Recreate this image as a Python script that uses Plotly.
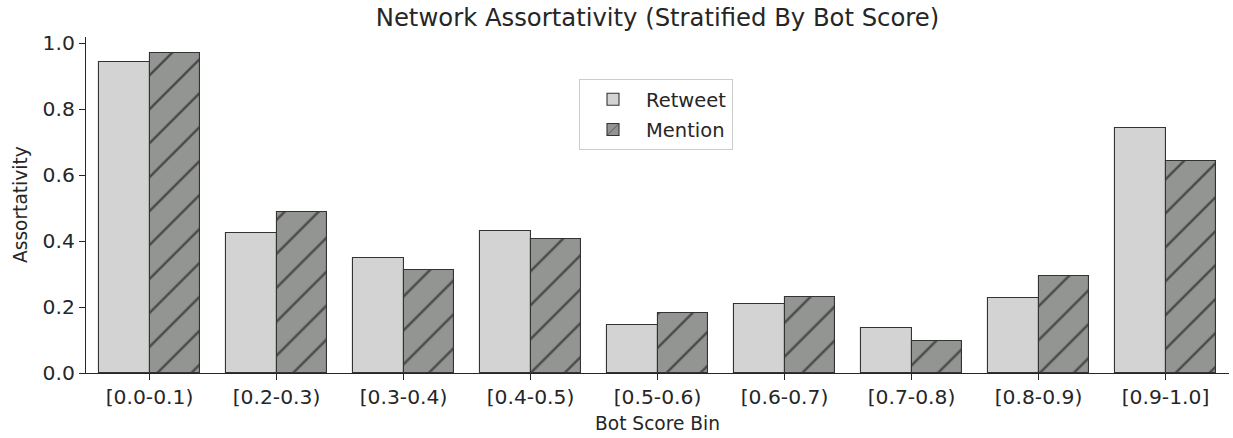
import plotly.graph_objects as go

categories = ["[0.0-0.1)", "[0.2-0.3)", "[0.3-0.4)", "[0.4-0.5)", "[0.5-0.6)",
              "[0.6-0.7)", "[0.7-0.8)", "[0.8-0.9)", "[0.9-1.0]"]
retweet = [0.944, 0.426, 0.348, 0.430, 0.145, 0.209, 0.136, 0.227, 0.743]
mention = [0.970, 0.488, 0.312, 0.406, 0.181, 0.230, 0.096, 0.294, 0.643]
y_ticks = [0.0, 0.2, 0.4, 0.6, 0.8, 1.0]

FONT = "DejaVu Sans"
TXT = "#262626"
idx = list(range(len(categories)))

W, H = 1233, 438
L, R, T, B = 86, 4, 37, 65
pw, ph = W - L - R, H - T - B

fig = go.Figure()
fig.add_trace(go.Bar(
    x=[i - 0.2 for i in idx], y=retweet, width=0.4, name="Retweet",
    legendgroup="a",
    marker=dict(color="#d3d3d3", line=dict(color="#333333", width=1.1)),
))
fig.add_trace(go.Bar(
    x=[i + 0.2 for i in idx], y=mention, width=0.4, name="Mention",
    legendgroup="b",
    marker=dict(color="#929591", line=dict(color="#333333", width=1.1),
                pattern=dict(shape="/", fgcolor="#000000", bgcolor="#929591",
                             size=24, solidity=0.1)),
))

fig.update_layout(
    width=W, height=H,
    margin=dict(l=L, r=R, t=T, b=B, autoexpand=False),
    plot_bgcolor="white", paper_bgcolor="white",
    font=dict(family=FONT, size=20, color=TXT),
    title=dict(text="Network Assortativity (Stratified By Bot Score)",
               x=(L + W - R) / 2 / W, xanchor="center",
               y=1 - 17.5 / H, yanchor="middle",
               font=dict(size=24.3, color=TXT)),
    barmode="overlay",
    bargap=0,
    showlegend=True,
    legend=dict(x=(579 - L) / pw, y=(H - B - 79) / ph, xanchor="left", yanchor="top",
                bgcolor="white", bordercolor="#cccccc", borderwidth=1,
                font=dict(size=19.5, color=TXT), tracegroupgap=2,
                itemwidth=56),
    xaxis=dict(range=[-0.5, 8.5], tickmode="array", tickvals=idx,
               ticktext=categories, showline=True, linecolor=TXT, linewidth=1.25,
               ticks="outside", ticklen=6, tickcolor=TXT, tickwidth=1.25,
               showgrid=False, zeroline=False, automargin=False,
               tickfont=dict(size=20.3)),
    yaxis=dict(range=[0, 1.019], tickmode="array", tickvals=y_ticks,
               ticktext=[f"{v:.1f}" for v in y_ticks],
               showline=True, linecolor=TXT, linewidth=1.25,
               ticks="outside", ticklen=6, tickcolor=TXT, tickwidth=1.25,
               showgrid=False, zeroline=False, automargin=False,
               tickfont=dict(size=20.3)),
    annotations=[
        dict(text="Bot Score Bin", xref="paper", yref="paper",
             x=0.5, y=(H - B - 423) / ph, xanchor="center", yanchor="middle",
             showarrow=False, font=dict(size=18.6, color=TXT)),
        dict(text="Assortativity", xref="paper", yref="paper",
             x=(20 - L) / pw, y=0.5, xanchor="center", yanchor="middle",
             textangle=-90, showarrow=False, font=dict(size=18.6, color=TXT)),
    ],
)

fig.write_html("out.html", config={"displayModeBar": False},
               post_script="document.body.style.margin='0';document.body.style.overflow='hidden';")
